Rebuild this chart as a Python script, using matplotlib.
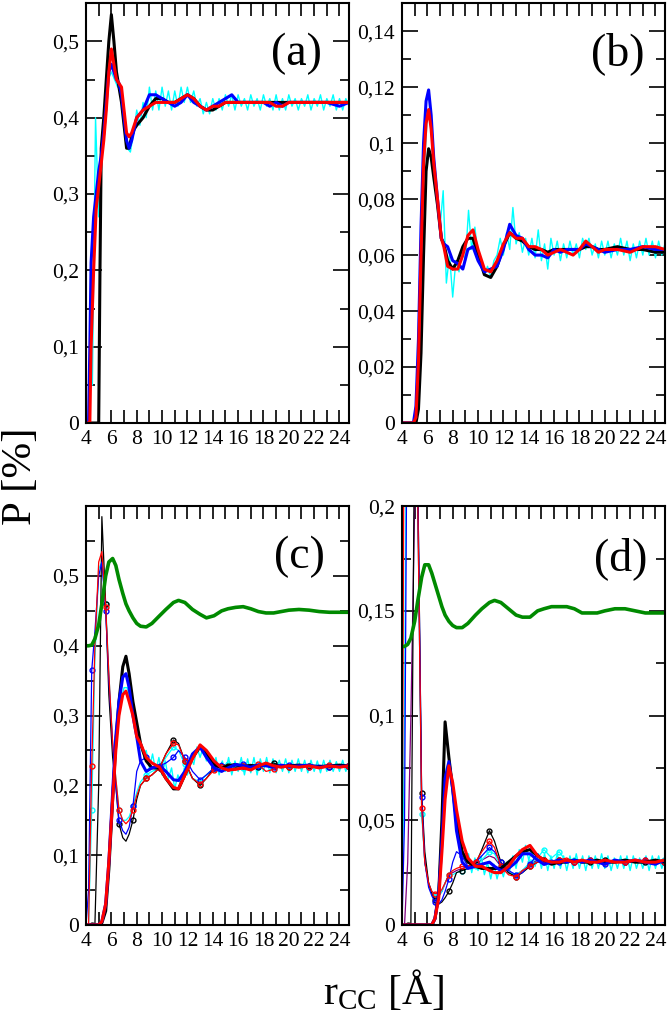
import numpy as np
import matplotlib
matplotlib.use("Agg")
import matplotlib.pyplot as plt
from matplotlib.ticker import MultipleLocator

plt.rcParams['font.family'] = ['Liberation Serif', 'DejaVu Serif']
plt.rcParams['mathtext.fontset'] = 'custom'
plt.rcParams['mathtext.rm'] = 'Liberation Serif'
plt.rcParams['mathtext.it'] = 'Liberation Serif:italic'

# ---------------- panel (a) ----------------
a_x = [4.2, 4.3, 4.4, 4.6, 4.8, 5.0, 5.1, 5.2, 5.4, 5.6, 5.8, 6.0, 6.2, 6.4, 6.6, 6.8, 7.0, 7.2, 7.4, 7.6,
       7.8, 8.0, 8.5, 9.0, 9.5, 10.0, 10.5, 11.0, 11.5, 12.0, 12.5, 13.0, 13.5, 14.0, 14.5, 15.0, 15.5, 16.0,
       16.5, 17.0, 17.5, 18.0, 18.5, 19.0, 19.5, 20.0, 21.0, 22.0, 23.0, 24.0, 24.75]
a_black = [0, 0, 0, 0, 0, 0, 0.2, 0.36, 0.40, 0.45, 0.50, 0.535, 0.50, 0.46, 0.44, 0.42, 0.39, 0.36, 0.36, 0.375,
           0.385, 0.39, 0.40, 0.415, 0.425, 0.425, 0.42, 0.42, 0.425, 0.43, 0.425, 0.415, 0.41, 0.41, 0.415,
           0.42, 0.42, 0.42, 0.42, 0.42, 0.42, 0.42, 0.42, 0.42, 0.42, 0.42, 0.42, 0.42, 0.42, 0.42, 0.42]
a_blue = [0, 0.1, 0.21, 0.27, 0.30, 0.33, 0.34, 0.35, 0.38, 0.42, 0.46, 0.47, 0.46, 0.45, 0.445, 0.43, 0.40, 0.37,
          0.36, 0.37, 0.385, 0.40, 0.41, 0.43, 0.43, 0.425, 0.42, 0.415, 0.42, 0.43, 0.42, 0.415, 0.41, 0.415,
          0.42, 0.425, 0.43, 0.42, 0.42, 0.42, 0.42, 0.42, 0.415, 0.42, 0.415, 0.42, 0.42, 0.42, 0.42, 0.415, 0.42]
a_red = [0, 0, 0.1, 0.2, 0.28, 0.31, 0.325, 0.34, 0.37, 0.41, 0.46, 0.49, 0.47, 0.45, 0.445, 0.44, 0.41, 0.38,
         0.375, 0.38, 0.39, 0.40, 0.41, 0.415, 0.42, 0.42, 0.42, 0.42, 0.425, 0.43, 0.425, 0.415, 0.41, 0.415,
         0.415, 0.42, 0.42, 0.42, 0.42, 0.42, 0.42, 0.42, 0.42, 0.415, 0.415, 0.42, 0.42, 0.42, 0.42, 0.42, 0.42]
a_cyan = [0.05, 0.40, 0.27, 0.36, 0.40, 0.45, 0.46, 0.45, 0.44, 0.44, 0.40, 0.36, 0.355, 0.38, 0.41, 0.39,
          0.42, 0.40, 0.44, 0.41, 0.435, 0.41, 0.44, 0.415, 0.435, 0.41, 0.435, 0.415, 0.44, 0.42, 0.44, 0.42,
          0.435, 0.415, 0.425, 0.405, 0.42, 0.405, 0.425, 0.41, 0.425, 0.41, 0.43, 0.415, 0.43, 0.41, 0.43,
          0.415, 0.425, 0.41, 0.43, 0.415, 0.425, 0.41, 0.43, 0.415, 0.425, 0.41, 0.43, 0.41, 0.425, 0.41,
          0.43, 0.415, 0.425, 0.41, 0.425, 0.415, 0.43, 0.41, 0.425, 0.415, 0.43, 0.41, 0.425, 0.415, 0.43,
          0.41, 0.425, 0.41, 0.425, 0.415]

# ---------------- panel (b) ----------------
b_x = [4.0, 4.9, 5.1, 5.3, 5.5, 5.7, 5.9, 6.1, 6.3, 6.5, 6.8, 7.1, 7.3, 7.6, 8.0, 8.4, 8.8, 9.2, 9.6, 10.0,
       10.5, 11.0, 11.5, 12.0, 12.5, 13.0, 13.5, 14.0, 14.5, 15.0, 15.5, 16.0, 16.5, 17.0, 17.5, 18.0, 18.5,
       19.0, 19.5, 20.0, 21.0, 22.0, 23.0, 24.0, 24.75]
b_blue = [0, 0, 0.006, 0.03, 0.07, 0.10, 0.115, 0.119, 0.11, 0.095, 0.08, 0.066, 0.064, 0.063, 0.058, 0.057,
          0.055, 0.062, 0.063, 0.058, 0.054, 0.055, 0.056, 0.062, 0.071, 0.067, 0.066, 0.062, 0.060, 0.060,
          0.059, 0.062, 0.061, 0.062, 0.062, 0.062, 0.064, 0.063, 0.062, 0.061, 0.062, 0.062, 0.063, 0.062, 0.062]
b_red = [0, 0, 0.002, 0.022, 0.06, 0.092, 0.107, 0.112, 0.105, 0.093, 0.08, 0.066, 0.063, 0.056, 0.055, 0.055,
         0.060, 0.067, 0.069, 0.062, 0.055, 0.054, 0.058, 0.064, 0.068, 0.066, 0.066, 0.063, 0.063, 0.062,
         0.060, 0.061, 0.062, 0.061, 0.060, 0.062, 0.065, 0.063, 0.061, 0.062, 0.062, 0.061, 0.063, 0.063, 0.062]
b_black = [0, 0, 0, 0.005, 0.025, 0.06, 0.09, 0.098, 0.095, 0.088, 0.078, 0.066, 0.064, 0.058, 0.055, 0.058,
           0.063, 0.066, 0.066, 0.060, 0.053, 0.052, 0.056, 0.063, 0.068, 0.066, 0.065, 0.063, 0.062, 0.062,
           0.061, 0.062, 0.062, 0.062, 0.062, 0.062, 0.063, 0.063, 0.062, 0.062, 0.063, 0.062, 0.062, 0.061, 0.061]
b_cyan = [0, 0.015, 0.05, 0.09, 0.11, 0.108, 0.095, 0.082, 0.07, 0.083, 0.05, 0.06, 0.045, 0.058, 0.054, 0.062,
          0.058, 0.076, 0.062, 0.07, 0.06, 0.058, 0.053, 0.056, 0.052, 0.058, 0.06, 0.066, 0.06, 0.068, 0.062,
          0.077, 0.064, 0.068, 0.061, 0.066, 0.06, 0.066, 0.059, 0.069, 0.058, 0.064, 0.055, 0.066, 0.06, 0.065,
          0.058, 0.064, 0.059, 0.065, 0.06, 0.064, 0.059, 0.066, 0.062, 0.066, 0.06, 0.064, 0.059, 0.065, 0.06,
          0.065, 0.059, 0.064, 0.06, 0.066, 0.06, 0.065, 0.058, 0.064, 0.059, 0.065, 0.06, 0.066, 0.06, 0.065,
          0.059, 0.065, 0.06, 0.064]

# ---------------- panels (c) and (d): shared grid ----------------
cd_x = [4.0, 4.2, 4.45, 4.7, 5.0, 5.25, 5.55, 5.8, 6.1, 6.35, 6.6, 6.9, 7.15, 7.4, 7.7, 8.0, 8.3, 8.75, 9.2,
        9.8, 10.3, 10.9, 11.3, 11.8, 12.4, 13.0, 13.5, 14.1, 14.7, 15.2, 15.8, 16.4, 17.0, 17.6, 18.2, 18.8,
        19.4, 20.0, 20.8, 21.6, 22.4, 23.2, 24.0, 24.7]
marker_idx = [2, 6, 10, 14, 17, 19, 21, 23, 25, 27, 29, 31, 33, 35, 37, 39, 41, 43]

c_green = [0.40, 0.40, 0.401, 0.41, 0.43, 0.46, 0.50, 0.52, 0.525, 0.515, 0.495, 0.475, 0.46, 0.45, 0.44,
           0.432, 0.428, 0.427, 0.432, 0.443, 0.452, 0.462, 0.465, 0.462, 0.452, 0.445, 0.44, 0.443, 0.45,
           0.453, 0.455, 0.456, 0.453, 0.449, 0.447, 0.447, 0.449, 0.451, 0.452, 0.451, 0.449, 0.448, 0.448, 0.448]
c_black_thick = [0, 0, 0, 0, 0, 0.003, 0.02, 0.08, 0.18, 0.26, 0.32, 0.37, 0.385, 0.36, 0.32, 0.29, 0.26,
                 0.235, 0.225, 0.225, 0.21, 0.195, 0.195, 0.215, 0.24, 0.255, 0.245, 0.23, 0.225, 0.228, 0.23,
                 0.227, 0.228, 0.228, 0.23, 0.228, 0.227, 0.228, 0.229, 0.228, 0.227, 0.228, 0.229, 0.228]
c_blue_thick = [0, 0, 0, 0, 0, 0.005, 0.03, 0.09, 0.19, 0.27, 0.32, 0.355, 0.36, 0.34, 0.30, 0.27, 0.235,
                0.22, 0.225, 0.228, 0.22, 0.208, 0.207, 0.22, 0.245, 0.255, 0.24, 0.225, 0.22, 0.225, 0.23,
                0.228, 0.226, 0.229, 0.228, 0.226, 0.229, 0.227, 0.228, 0.229, 0.226, 0.228, 0.227, 0.228]
c_red_thick = [0, 0, 0, 0, 0, 0.005, 0.03, 0.09, 0.18, 0.25, 0.30, 0.33, 0.335, 0.32, 0.30, 0.27, 0.26,
               0.24, 0.232, 0.226, 0.21, 0.197, 0.195, 0.215, 0.238, 0.258, 0.25, 0.235, 0.225, 0.222, 0.223,
               0.225, 0.222, 0.228, 0.232, 0.228, 0.226, 0.228, 0.226, 0.228, 0.225, 0.228, 0.226, 0.228]
c_black_thin = [0, 0, 0, 0, 0.2, 0.585, 0.46, 0.33, 0.24, 0.20, 0.145, 0.125, 0.12, 0.13, 0.15, 0.18, 0.20,
                0.21, 0.215, 0.225, 0.245, 0.265, 0.26, 0.235, 0.21, 0.20, 0.21, 0.225, 0.23, 0.228, 0.226,
                0.228, 0.23, 0.227, 0.229, 0.232, 0.228, 0.227, 0.229, 0.228, 0.228, 0.227, 0.229, 0.228]
c_blue_thin = [0, 0.05, 0.365, 0.42, 0.50, 0.52, 0.45, 0.35, 0.26, 0.20, 0.15, 0.135, 0.13, 0.14, 0.17, 0.22,
               0.235, 0.24, 0.232, 0.228, 0.232, 0.24, 0.25, 0.24, 0.22, 0.208, 0.215, 0.225, 0.232, 0.225,
               0.228, 0.23, 0.226, 0.228, 0.23, 0.227, 0.226, 0.229, 0.228, 0.227, 0.229, 0.226, 0.228, 0.228]
c_red_thin = [0, 0, 0.228, 0.40, 0.52, 0.535, 0.455, 0.36, 0.26, 0.21, 0.165, 0.15, 0.145, 0.15, 0.165,
              0.185, 0.20, 0.21, 0.215, 0.225, 0.245, 0.26, 0.258, 0.235, 0.21, 0.202, 0.21, 0.222, 0.23,
              0.225, 0.222, 0.228, 0.226, 0.23, 0.22, 0.223, 0.228, 0.226, 0.23, 0.227, 0.226, 0.229, 0.227, 0.228]
c_cyan_thin = [0, 0, 0.165, 0.38, 0.51, 0.52, 0.46, 0.36, 0.26, 0.21, 0.165, 0.15, 0.15, 0.155, 0.17, 0.19,
               0.205, 0.215, 0.22, 0.225, 0.24, 0.255, 0.25, 0.23, 0.21, 0.205, 0.215, 0.225, 0.225, 0.23,
               0.228, 0.225, 0.23, 0.226, 0.228, 0.232, 0.227, 0.226, 0.229, 0.228, 0.226, 0.229, 0.227, 0.228]
c_cyan = [0, 0.005, 0.03, 0.08, 0.15, 0.22, 0.28, 0.32, 0.34, 0.34, 0.32, 0.30, 0.28, 0.26, 0.245, 0.25,
          0.225, 0.245, 0.22, 0.24, 0.215, 0.235, 0.21, 0.225, 0.195, 0.215, 0.20, 0.225, 0.215, 0.24, 0.23,
          0.255, 0.24, 0.255, 0.235, 0.245, 0.22, 0.24, 0.215, 0.235, 0.22, 0.24, 0.215, 0.235, 0.22, 0.24,
          0.215, 0.238, 0.218, 0.24, 0.215, 0.238, 0.22, 0.24, 0.218, 0.238, 0.218, 0.236, 0.22, 0.238, 0.218,
          0.236, 0.22, 0.238, 0.22, 0.236, 0.218, 0.236, 0.22, 0.235, 0.218, 0.236, 0.22, 0.236, 0.22, 0.234,
          0.22, 0.236, 0.22, 0.232]

d_green = [0.133, 0.133, 0.134, 0.137, 0.145, 0.155, 0.166, 0.172, 0.172, 0.168, 0.163, 0.157, 0.152, 0.148,
           0.145, 0.143, 0.142, 0.142, 0.144, 0.148, 0.151, 0.154, 0.155, 0.154, 0.151, 0.148, 0.147, 0.147,
           0.15, 0.151, 0.152, 0.152, 0.152, 0.151, 0.149, 0.149, 0.149, 0.15, 0.151, 0.151, 0.15, 0.149,
           0.149, 0.149]
d_black_thick = [0, 0, 0, 0, 0, 0, 0, 0, 0, 0, 0.003, 0.015, 0.05, 0.097, 0.08, 0.065, 0.05, 0.035, 0.03,
                 0.028, 0.027, 0.027, 0.027, 0.027, 0.03, 0.033, 0.035, 0.036, 0.033, 0.031, 0.029, 0.03,
                 0.03, 0.031, 0.03, 0.03, 0.031, 0.03, 0.03, 0.031, 0.03, 0.03, 0.031, 0.03]
d_blue_thick = [0, 0, 0, 0, 0, 0, 0, 0, 0, 0, 0.003, 0.015, 0.04, 0.07, 0.078, 0.065, 0.045, 0.03, 0.027,
                0.028, 0.029, 0.03, 0.028, 0.026, 0.027, 0.03, 0.034, 0.034, 0.031, 0.029, 0.03, 0.031,
                0.03, 0.031, 0.03, 0.031, 0.03, 0.029, 0.031, 0.03, 0.031, 0.03, 0.029, 0.031]
d_red_thick = [0, 0, 0, 0, 0, 0, 0, 0, 0, 0, 0.003, 0.013, 0.035, 0.06, 0.076, 0.068, 0.055, 0.04, 0.032,
               0.028, 0.028, 0.026, 0.025, 0.025, 0.028, 0.033, 0.036, 0.038, 0.033, 0.031, 0.03, 0.03,
               0.031, 0.03, 0.031, 0.03, 0.03, 0.031, 0.03, 0.03, 0.031, 0.03, 0.03, 0.031]
d_black_thin = [0, 0, 0, 0, 0.25, 0.21, 0.063, 0.035, 0.02, 0.015, 0.012, 0.01, 0.011, 0.013, 0.016, 0.02,
                0.025, 0.026, 0.027, 0.029, 0.036, 0.045, 0.04, 0.03, 0.025, 0.023, 0.025, 0.028, 0.03,
                0.031, 0.03, 0.031, 0.03, 0.03, 0.031, 0.03, 0.03, 0.031, 0.03, 0.03, 0.031, 0.03, 0.03, 0.03]
d_blue_thin = [0, 0.05, 0.3, 0.5, 0.5, 0.21, 0.061, 0.03, 0.018, 0.014, 0.011, 0.01, 0.012, 0.016, 0.022,
               0.03, 0.035, 0.033, 0.028, 0.03, 0.033, 0.037, 0.035, 0.03, 0.026, 0.024, 0.025, 0.029, 0.034,
               0.03, 0.031, 0.03, 0.031, 0.03, 0.03, 0.031, 0.03, 0.029, 0.031, 0.03, 0.03, 0.031, 0.03, 0.03]
d_red_thin = [0, 0.3, 0.5, 0.5, 0.5, 0.2, 0.056, 0.03, 0.02, 0.016, 0.015, 0.015, 0.017, 0.02, 0.024, 0.026,
              0.027, 0.028, 0.028, 0.03, 0.035, 0.04, 0.037, 0.028, 0.024, 0.023, 0.026, 0.028, 0.03, 0.031,
              0.03, 0.031, 0.032, 0.03, 0.03, 0.031, 0.03, 0.03, 0.031, 0.03, 0.03, 0.031, 0.03, 0.03]
d_cyan_thin = [0, 0.1, 0.35, 0.5, 0.5, 0.2, 0.053, 0.03, 0.02, 0.016, 0.014, 0.014, 0.016, 0.02, 0.024,
               0.024, 0.025, 0.026, 0.027, 0.028, 0.031, 0.035, 0.034, 0.028, 0.025, 0.024, 0.026, 0.03,
               0.032, 0.036, 0.032, 0.035, 0.03, 0.031, 0.03, 0.031, 0.03, 0.031, 0.03, 0.03, 0.031, 0.03,
               0.03, 0.031]
d_purple_thin = [0, 0, 0.03, 0.1, 0.2, 0.2, 0.056, 0.03, 0.02, 0.016, 0.014, 0.014, 0.016, 0.02, 0.024,
                 0.025, 0.026, 0.027, 0.028, 0.029, 0.031, 0.033, 0.032, 0.028, 0.025, 0.024, 0.026, 0.029,
                 0.031, 0.031, 0.03, 0.031, 0.03, 0.031, 0.03, 0.031, 0.03, 0.03, 0.031, 0.03, 0.03, 0.031,
                 0.03, 0.03]
d_cyan = [0, 0, 0, 0, 0, 0, 0, 0.008, 0.03, 0.06, 0.075, 0.078, 0.065, 0.055, 0.045, 0.036, 0.03, 0.034,
          0.025, 0.032, 0.026, 0.033, 0.024, 0.03, 0.022, 0.029, 0.022, 0.028, 0.023, 0.03, 0.026, 0.033,
          0.027, 0.036, 0.03, 0.038, 0.031, 0.036, 0.028, 0.034, 0.027, 0.034, 0.026, 0.033, 0.027, 0.034,
          0.027, 0.033, 0.026, 0.033, 0.027, 0.034, 0.027, 0.033, 0.026, 0.033, 0.027, 0.033, 0.027, 0.034,
          0.027, 0.033, 0.026, 0.032, 0.027, 0.033, 0.027, 0.033, 0.026, 0.033, 0.027, 0.032, 0.027, 0.033,
          0.026, 0.033, 0.027, 0.033, 0.027, 0.032]

x_ticks = [4, 6, 8, 10, 12, 14, 16, 18, 20, 22, 24]
x_ticklabels = ['4', '6', '8', '10', '12', '14', '16', '18', '20', '22', '24']
a_yticks = [0, 0.1, 0.2, 0.3, 0.4, 0.5]
a_ylabels = ['0', '0,1', '0,2', '0,3', '0,4', '0,5']
b_yticks = [0, 0.02, 0.04, 0.06, 0.08, 0.1, 0.12, 0.14]
b_ylabels = ['0', '0,02', '0,04', '0,06', '0,08', '0,1', '0,12', '0,14']
c_yticks = [0, 0.1, 0.2, 0.3, 0.4, 0.5]
c_ylabels = ['0', '0,1', '0,2', '0,3', '0,4', '0,5']
d_yticks = [0, 0.05, 0.1, 0.15, 0.2]
d_ylabels = ['0', '0,05', '0,1', '0,15', '0,2']

BLK, BLU, RED, CYA, GRN, PUR = 'black', '#0000ff', '#ff0000', '#00ffff', '#008a00', '#800080'
TH = 2.2
TN = 0.9

fig = plt.figure(figsize=(6.7, 10.24), dpi=100)
W, H = 0.3925, 0.410
axa = fig.add_axes([0.1284, 0.5869, W, H])
axb = fig.add_axes([0.600, 0.5869, W, H])
axc = fig.add_axes([0.1284, 0.0967, W, 0.409])
axd = fig.add_axes([0.600, 0.0967, W, 0.409])


def style(ax, ylim, yticks, ylabels, yminor, label, lx, ly):
    ax.set_xlim(4, 24.75)
    ax.set_ylim(*ylim)
    ax.set_xticks(x_ticks)
    ax.set_xticklabels(x_ticklabels)
    ax.xaxis.set_minor_locator(MultipleLocator(1))
    ax.set_yticks(yticks)
    ax.set_yticklabels(ylabels)
    ax.yaxis.set_minor_locator(MultipleLocator(yminor))
    ax.tick_params(axis='both', which='both', direction='in', top=True, right=True,
                   width=1.2, labelsize=15.5, pad=5)
    ax.tick_params(axis='x', which='both', length=9.5)
    ax.tick_params(axis='y', which='major', length=11.5)
    ax.tick_params(axis='y', which='minor', length=6.5)
    for s in ax.spines.values():
        s.set_linewidth(1.5)
    ax.text(lx, ly, label, transform=ax.transAxes, fontsize=33, ha='center', va='center')


# (a)
axa.plot(np.linspace(4.5, 24.75, len(a_cyan)), a_cyan, color=CYA, lw=1.0)
axa.plot(a_x, a_black, color=BLK, lw=TH)
axa.plot(a_x, a_blue, color=BLU, lw=TH)
axa.plot(a_x, a_red, color=RED, lw=TH)
style(axa, (0, 0.55), a_yticks, a_ylabels, 0.05, '(a)', 0.80, 0.88)

# (b)
axb.plot(np.linspace(5.0, 24.75, len(b_cyan)), b_cyan, color=CYA, lw=1.0)
axb.plot(b_x, b_black, color=BLK, lw=TH)
axb.plot(b_x, b_blue, color=BLU, lw=TH)
axb.plot(b_x, b_red, color=RED, lw=TH)
style(axb, (0, 0.15), b_yticks, b_ylabels, 0.01, '(b)', 0.82, 0.88)

mk = dict(marker='o', ms=3.5, mfc='none', mew=1.0, markevery=marker_idx)

# (c)
axc.plot(np.linspace(5.0, 24.75, len(c_cyan)), c_cyan, color=CYA, lw=1.0)
axc.plot(cd_x, c_cyan_thin, color=CYA, lw=TN, **mk)
axc.plot(cd_x, c_black_thin, color=BLK, lw=TN, **mk)
axc.plot(cd_x, c_blue_thin, color=BLU, lw=TN, **mk)
axc.plot(cd_x, c_red_thin, color=RED, lw=TN, **mk)
axc.plot(cd_x, c_black_thick, color=BLK, lw=TH)
axc.plot(cd_x, c_blue_thick, color=BLU, lw=TH)
axc.plot(cd_x, c_red_thick, color=RED, lw=TH)
axc.plot(cd_x, c_green, color=GRN, lw=2.6)
style(axc, (0, 0.6), c_yticks, c_ylabels, 0.05, '(c)', 0.81, 0.88)

# (d)
axd.plot(np.linspace(5.0, 24.75, len(d_cyan)), d_cyan, color=CYA, lw=1.0)
axd.plot(cd_x, d_purple_thin, color=PUR, lw=TN)
axd.plot(cd_x, d_cyan_thin, color=CYA, lw=TN, **mk)
axd.plot(cd_x, d_black_thin, color=BLK, lw=TN, **mk)
axd.plot(cd_x, d_blue_thin, color=BLU, lw=TN, **mk)
axd.plot(cd_x, d_red_thin, color=RED, lw=TN, **mk)
axd.plot(cd_x, d_black_thick, color=BLK, lw=TH)
axd.plot(cd_x, d_blue_thick, color=BLU, lw=TH)
axd.plot(cd_x, d_red_thick, color=RED, lw=TH)
axd.plot(cd_x, d_green, color=GRN, lw=2.6)
style(axd, (0, 0.2), d_yticks, d_ylabels, 0.025, '(d)', 0.83, 0.875)

fig.text(0.031, 0.535, 'P [%]', rotation=90, fontsize=31, ha='center', va='center')
fig.text(0.573, 0.033, r'r$_{\mathrm{CC}}$ [Å]', fontsize=30, ha='center', va='center')

fig.savefig('out.png', dpi=100)
